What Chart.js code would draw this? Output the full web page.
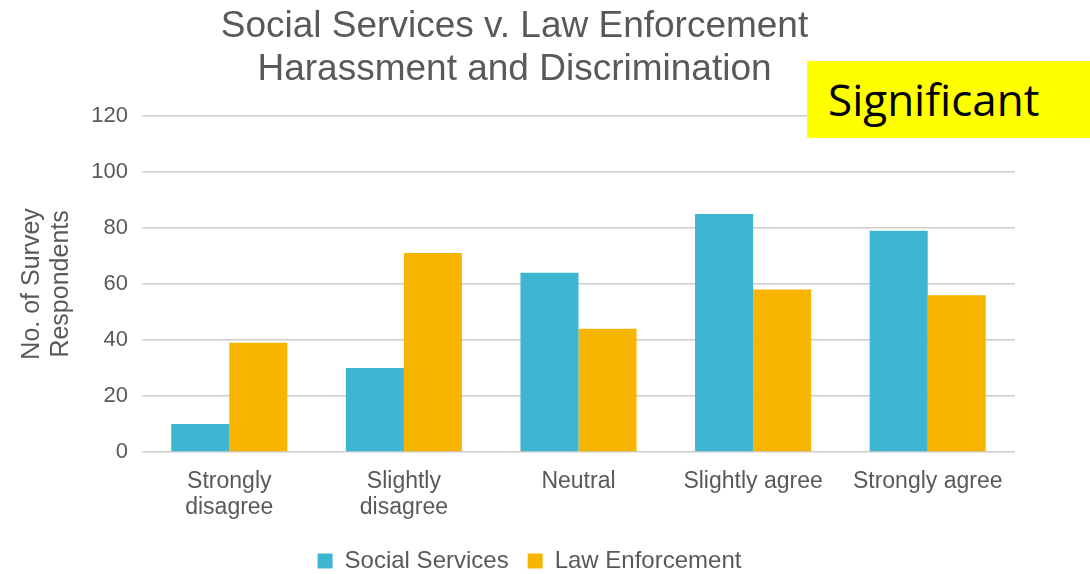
<!DOCTYPE html>
<html>
<head>
<meta charset="utf-8">
<script src="https://cdn.jsdelivr.net/npm/chart.js@4/dist/chart.umd.min.js"></script>
<style>
  html, body { margin: 0; padding: 0; background: #ffffff; }
  #wrap { position: relative; width: 1090px; height: 574px; }
  #badge {
    position: absolute; left: 807px; top: 61px; width: 283px; height: 77px;
    background: #ffff00; color: #000000;
    font-family: "Open Sans", "Noto Sans", sans-serif; font-size: 44px; line-height: 77px;
    padding-left: 21px; box-sizing: border-box; white-space: nowrap;
  }
</style>
</head>
<body>
<div id="wrap">
  <canvas id="c" width="1090" height="574"></canvas>
  <div id="badge">Significant</div>
</div>
<script>
const categories = [["Strongly", "disagree"], ["Slightly", "disagree"], "Neutral", "Slightly agree", "Strongly agree"];
const socialServices = [10, 30, 64, 85, 79];
const lawEnforcement = [39, 71, 44, 58, 56];
const seriesNames = ["Social Services", "Law Enforcement"];
const titleLines = ["Social Services v. Law Enforcement", "Harassment and Discrimination"];
const yAxisTitle = ["No. of Survey", "Respondents"];
const yTicks = [0, 20, 40, 60, 80, 100, 120];

const FONT = "'Liberation Sans', Arial, sans-serif";
const GRAY = "#595959";

const shiftPlugin = {
  id: "shiftBlocks",
  afterLayout(chart) {
    const lg = chart.legend;
    if (lg) { lg.left += 22; lg.right += 22; }
    const tb = chart.titleBlock;
    if (tb) { tb.left += 7; tb.right += 7; }
  }
};

new Chart(document.getElementById("c"), {
  type: "bar",
  data: {
    labels: categories,
    datasets: [
      { label: seriesNames[0], data: socialServices, backgroundColor: "#3eb5d1", borderWidth: 0 },
      { label: seriesNames[1], data: lawEnforcement, backgroundColor: "#f8b500", borderWidth: 0 }
    ]
  },
  options: {
    responsive: false,
    animation: false,
    devicePixelRatio: 1,
    layout: { padding: { left: 0, right: 75, top: 0, bottom: -9 } },
    datasets: { bar: { categoryPercentage: 0.665, barPercentage: 1.0 } },
    plugins: {
      title: {
        display: true,
        text: titleLines,
        color: GRAY,
        font: { family: FONT, size: 37, weight: "normal", lineHeight: 1.16 },
        padding: { top: 5.5, bottom: 24.5 }
      },
      legend: {
        position: "bottom",
        labels: {
          color: GRAY,
          font: { family: FONT, size: 24 },
          boxWidth: 15,
          boxHeight: 15,
          padding: 19
        }
      },
      tooltip: { enabled: false }
    },
    scales: {
      x: {
        grid: { display: false, drawTicks: false },
        border: { display: false },
        ticks: {
          color: GRAY,
          font: { family: FONT, size: 23, lineHeight: 1.13 },
          padding: 17,
          maxRotation: 0,
          minRotation: 0,
          autoSkip: false
        },
        afterFit(scale) { scale.height = 78; }
      },
      y: {
        min: 0,
        max: 120,
        afterBuildTicks(scale) { scale.ticks = yTicks.map(v => ({ value: v })); },
        grid: { color: "#cccccc", lineWidth: 1.5, drawTicks: false },
        border: { display: false },
        ticks: {
          color: GRAY,
          font: { family: FONT, size: 22 },
          padding: 14
        },
        title: {
          display: true,
          text: yAxisTitle,
          color: GRAY,
          font: { family: FONT, size: 25, lineHeight: 1.16 },
          padding: { top: 17.5, bottom: 0 }
        },
        afterFit(scale) { scale.width = 142; }
      }
    }
  },
  plugins: [shiftPlugin]
});
</script>
</body>
</html>
